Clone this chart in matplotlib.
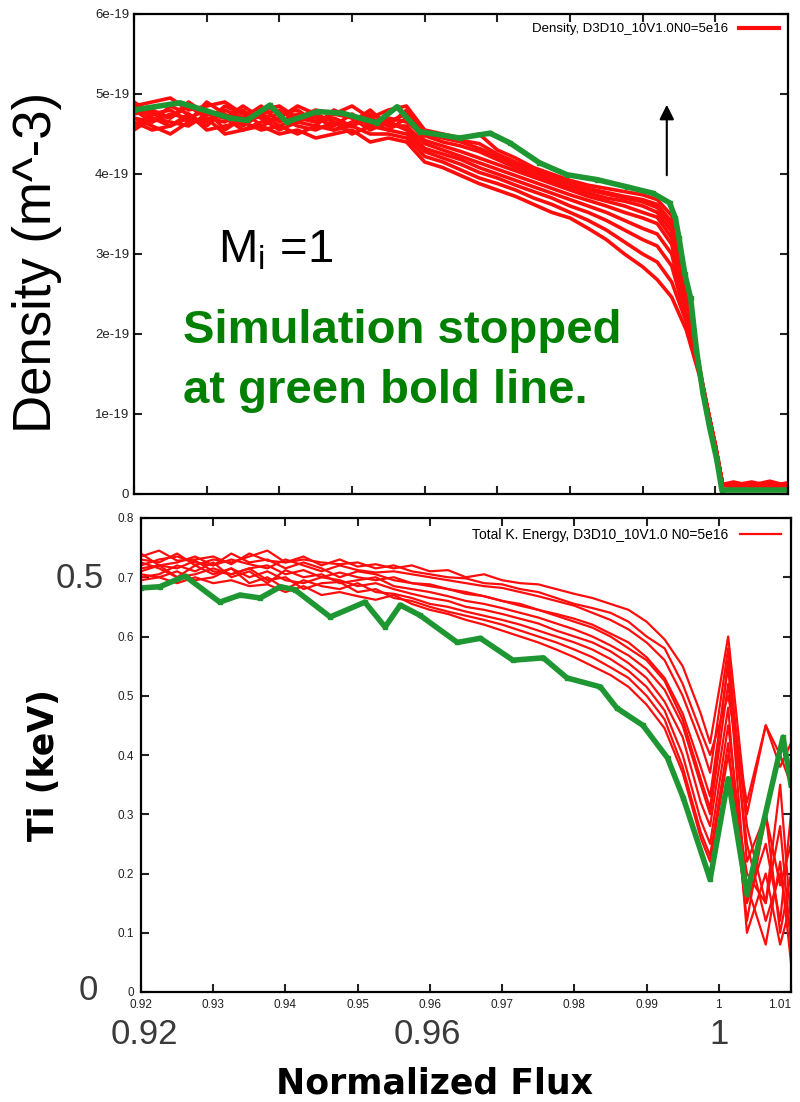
import matplotlib.pyplot as plt

# ---- top panel: density vs normalized flux (units of 1e19 m^-3) ----
flux_top = [0.920, 0.9225, 0.925, 0.9275, 0.930, 0.9325, 0.935, 0.9375, 0.940, 0.9425,
            0.945, 0.9475, 0.950, 0.9525, 0.955, 0.9575, 0.960, 0.9625, 0.965, 0.9675,
            0.970, 0.9725, 0.975, 0.9775, 0.980, 0.9825, 0.985, 0.9875, 0.990, 0.992,
            0.994, 0.996, 0.998, 1.000, 1.001, 1.0025, 1.005, 1.0075, 1.010]

dens_a = [4.85, 4.9, 4.95, 4.8, 4.85, 4.9, 4.75, 4.8, 4.85, 4.7, 4.8, 4.75, 4.85, 4.7, 4.8,
          4.85, 4.55, 4.5, 4.45, 4.5, 4.3, 4.2, 4.08, 4.0, 3.92, 3.86, 3.82, 3.78, 3.74,
          3.68, 3.48, 2.5, 1.45, 0.6, 0.13, 0.1, 0.11, 0.09, 0.1]
dens_b = [4.75, 4.8, 4.7, 4.9, 4.75, 4.7, 4.85, 4.7, 4.75, 4.8, 4.65, 4.7, 4.6, 4.75, 4.65,
          4.75, 4.5, 4.48, 4.42, 4.38, 4.25, 4.15, 4.05, 3.96, 3.88, 3.82, 3.77, 3.72, 3.68,
          3.62, 3.4, 2.45, 1.5, 0.58, 0.12, 0.15, 0.1, 0.14, 0.09]
dens_c = [4.7, 4.65, 4.85, 4.75, 4.6, 4.8, 4.7, 4.85, 4.65, 4.75, 4.7, 4.6, 4.75, 4.6, 4.7,
          4.65, 4.48, 4.4, 4.35, 4.28, 4.18, 4.08, 3.98, 3.9, 3.84, 3.76, 3.7, 3.66, 3.6,
          3.52, 3.28, 2.4, 1.42, 0.62, 0.12, 0.08, 0.12, 0.1, 0.13]
dens_d = [4.9, 4.75, 4.8, 4.65, 4.9, 4.75, 4.6, 4.75, 4.8, 4.65, 4.6, 4.8, 4.7, 4.65, 4.55,
          4.7, 4.42, 4.35, 4.28, 4.2, 4.12, 4.04, 3.96, 3.88, 3.8, 3.72, 3.66, 3.6, 3.52,
          3.46, 3.2, 2.35, 1.48, 0.59, 0.11, 0.14, 0.09, 0.11, 0.1]
dens_e = [4.6, 4.75, 4.7, 4.85, 4.7, 4.65, 4.8, 4.6, 4.7, 4.85, 4.75, 4.65, 4.6, 4.7, 4.6,
          4.6, 4.38, 4.3, 4.22, 4.14, 4.06, 3.98, 3.9, 3.82, 3.74, 3.67, 3.6, 3.52, 3.45,
          3.38, 3.12, 2.3, 1.44, 0.61, 0.12, 0.11, 0.15, 0.1, 0.11]
dens_f = [4.8, 4.65, 4.75, 4.7, 4.8, 4.55, 4.7, 4.75, 4.6, 4.7, 4.65, 4.75, 4.7, 4.55, 4.65,
          4.55, 4.32, 4.25, 4.18, 4.08, 4.0, 3.92, 3.84, 3.76, 3.68, 3.6, 3.52, 3.42, 3.32,
          3.25, 3.0, 2.25, 1.46, 0.6, 0.11, 0.1, 0.11, 0.16, 0.1]
dens_g = [4.55, 4.7, 4.65, 4.6, 4.75, 4.7, 4.55, 4.65, 4.7, 4.6, 4.55, 4.65, 4.5, 4.6, 4.55,
          4.5, 4.28, 4.2, 4.12, 4.02, 3.95, 3.86, 3.78, 3.7, 3.6, 3.52, 3.42, 3.3, 3.18,
          3.1, 2.85, 2.2, 1.43, 0.58, 0.12, 0.13, 0.1, 0.1, 0.14]
dens_h = [4.65, 4.55, 4.6, 4.75, 4.55, 4.6, 4.65, 4.55, 4.6, 4.5, 4.6, 4.55, 4.6, 4.5, 4.5,
          4.45, 4.22, 4.15, 4.05, 3.95, 3.88, 3.8, 3.7, 3.62, 3.52, 3.42, 3.3, 3.15, 3.0,
          2.9, 2.65, 2.15, 1.45, 0.6, 0.11, 0.1, 0.13, 0.11, 0.1]
dens_i = [4.7, 4.6, 4.5, 4.65, 4.7, 4.5, 4.55, 4.6, 4.5, 4.55, 4.45, 4.5, 4.55, 4.4, 4.45,
          4.4, 4.15, 4.08, 3.98, 3.88, 3.8, 3.72, 3.62, 3.52, 3.45, 3.32, 3.18, 3.0, 2.84,
          2.68, 2.46, 2.05, 1.42, 0.59, 0.12, 0.1, 0.11, 0.1, 0.1]
dens_j = [4.85, 4.7, 4.6, 4.7, 4.65, 4.85, 4.75, 4.7, 4.55, 4.65, 4.75, 4.55, 4.65, 4.8, 4.6,
          4.8, 4.5, 4.45, 4.4, 4.32, 4.22, 4.12, 4.02, 3.94, 3.86, 3.8, 3.75, 3.7, 3.65,
          3.58, 3.35, 2.42, 1.47, 0.61, 0.12, 0.11, 0.1, 0.1, 0.12]
dens_runs = [dens_a, dens_b, dens_c, dens_d, dens_e, dens_f, dens_g, dens_h, dens_i, dens_j]

flux_stop_top = [0.920, 0.9263, 0.9332, 0.9355, 0.9387, 0.941, 0.9452, 0.9487, 0.9534, 0.9562,
                 0.9593, 0.9648, 0.969, 0.9717, 0.9758, 0.9796, 0.9837, 0.9878, 0.9914, 0.9937,
                 0.9945, 0.995, 0.9958, 0.9966, 0.9974, 0.9983, 0.9992, 1.0002, 1.0009, 1.010]
dens_stop = [4.8, 4.89, 4.7, 4.67, 4.86, 4.65, 4.78, 4.76, 4.64, 4.84,
             4.53, 4.45, 4.51, 4.39, 4.14, 3.99, 3.93, 3.84, 3.76, 3.64,
             3.45, 3.2, 2.75, 2.45, 1.8, 1.26, 0.84, 0.43, 0.05, 0.05]

dens_ticks = [0, 1, 2, 3, 4, 5, 6]
dens_ticklabels = ["0", "1e-19", "2e-19", "3e-19", "4e-19", "5e-19", "6e-19"]

# ---- bottom panel: Ti vs normalized flux ----
flux_bot = [0.920, 0.9225, 0.925, 0.9275, 0.930, 0.9325, 0.935, 0.9375, 0.940, 0.9425,
            0.945, 0.9475, 0.950, 0.9525, 0.955, 0.9575, 0.960, 0.9625, 0.965, 0.9675,
            0.970, 0.9725, 0.975, 0.9775, 0.980, 0.9825, 0.985, 0.9875, 0.990, 0.9925,
            0.995, 0.9975, 0.9988, 1.0013, 1.0039, 1.0065, 1.0085, 1.010]

ti_01 = [0.735, 0.745, 0.728, 0.730, 0.735, 0.722, 0.740, 0.728, 0.725, 0.735,
         0.720, 0.730, 0.718, 0.722, 0.715, 0.720, 0.710, 0.712, 0.700, 0.705,
         0.695, 0.690, 0.688, 0.680, 0.672, 0.665, 0.655, 0.645, 0.625, 0.595,
         0.550, 0.470, 0.420, 0.600, 0.300, 0.450, 0.380, 0.420]
ti_02 = [0.720, 0.730, 0.735, 0.725, 0.720, 0.730, 0.722, 0.715, 0.730, 0.720,
         0.710, 0.720, 0.712, 0.708, 0.710, 0.705, 0.700, 0.695, 0.690, 0.685,
         0.682, 0.675, 0.668, 0.660, 0.652, 0.640, 0.628, 0.612, 0.590, 0.560,
         0.500, 0.420, 0.370, 0.580, 0.220, 0.300, 0.180, 0.250]
ti_03 = [0.710, 0.720, 0.715, 0.728, 0.710, 0.705, 0.715, 0.720, 0.705, 0.712,
         0.700, 0.708, 0.700, 0.695, 0.700, 0.690, 0.685, 0.680, 0.672, 0.668,
         0.660, 0.652, 0.645, 0.638, 0.630, 0.620, 0.605, 0.590, 0.565, 0.530,
         0.470, 0.380, 0.330, 0.550, 0.150, 0.250, 0.120, 0.300]
ti_04 = [0.700, 0.705, 0.720, 0.710, 0.725, 0.700, 0.710, 0.690, 0.712, 0.700,
         0.705, 0.690, 0.695, 0.700, 0.685, 0.680, 0.675, 0.668, 0.660, 0.655,
         0.648, 0.640, 0.632, 0.622, 0.612, 0.600, 0.585, 0.568, 0.545, 0.510,
         0.450, 0.350, 0.300, 0.520, 0.250, 0.120, 0.200, 0.100]
ti_05 = [0.725, 0.715, 0.700, 0.720, 0.705, 0.715, 0.700, 0.710, 0.695, 0.690,
         0.700, 0.695, 0.685, 0.690, 0.680, 0.672, 0.665, 0.660, 0.650, 0.645,
         0.638, 0.630, 0.622, 0.610, 0.600, 0.590, 0.575, 0.555, 0.530, 0.490,
         0.430, 0.320, 0.280, 0.480, 0.100, 0.200, 0.080, 0.150]
ti_06 = [0.740, 0.720, 0.725, 0.735, 0.720, 0.740, 0.725, 0.730, 0.715, 0.725,
         0.715, 0.700, 0.710, 0.705, 0.695, 0.690, 0.688, 0.680, 0.675, 0.668,
         0.660, 0.655, 0.645, 0.635, 0.625, 0.615, 0.600, 0.580, 0.560, 0.525,
         0.460, 0.360, 0.310, 0.560, 0.280, 0.150, 0.350, 0.120]
ti_07 = [0.705, 0.700, 0.710, 0.695, 0.700, 0.715, 0.690, 0.700, 0.680, 0.695,
         0.685, 0.680, 0.690, 0.675, 0.672, 0.665, 0.655, 0.650, 0.642, 0.635,
         0.628, 0.620, 0.610, 0.600, 0.590, 0.578, 0.562, 0.542, 0.515, 0.475,
         0.400, 0.290, 0.250, 0.450, 0.180, 0.080, 0.220, 0.050]
ti_08 = [0.715, 0.720, 0.700, 0.705, 0.715, 0.705, 0.715, 0.695, 0.700, 0.680,
         0.690, 0.692, 0.675, 0.680, 0.665, 0.660, 0.650, 0.642, 0.635, 0.628,
         0.620, 0.610, 0.600, 0.590, 0.578, 0.565, 0.548, 0.530, 0.500, 0.460,
         0.380, 0.270, 0.230, 0.420, 0.120, 0.300, 0.100, 0.200]
ti_09 = [0.695, 0.700, 0.690, 0.700, 0.690, 0.695, 0.685, 0.688, 0.675, 0.685,
         0.670, 0.675, 0.668, 0.662, 0.670, 0.655, 0.645, 0.638, 0.628, 0.620,
         0.610, 0.600, 0.590, 0.578, 0.565, 0.550, 0.535, 0.515, 0.485, 0.445,
         0.370, 0.260, 0.220, 0.400, 0.200, 0.150, 0.280, 0.080]
ti_10 = [0.730, 0.725, 0.740, 0.720, 0.730, 0.725, 0.735, 0.745, 0.725, 0.730,
         0.725, 0.722, 0.725, 0.715, 0.720, 0.710, 0.705, 0.700, 0.698, 0.690,
         0.688, 0.680, 0.675, 0.665, 0.655, 0.648, 0.640, 0.625, 0.600, 0.580,
         0.520, 0.440, 0.400, 0.500, 0.320, 0.450, 0.400, 0.350]
ti_runs = [ti_01, ti_02, ti_03, ti_04, ti_05, ti_06, ti_07, ti_08, ti_09, ti_10]

flux_stop_bot = [0.920, 0.9226, 0.9261, 0.9309, 0.9337, 0.9365, 0.9393, 0.9413, 0.9462, 0.9510,
                 0.9538, 0.9559, 0.9586, 0.9638, 0.9670, 0.9715, 0.9757, 0.9790, 0.9836, 0.9859,
                 0.9895, 0.9929, 0.9951, 0.9988, 1.0013, 1.0039, 1.0089, 1.010]
ti_stop = [0.682, 0.684, 0.702, 0.658, 0.670, 0.665, 0.684, 0.679, 0.633, 0.658,
           0.616, 0.653, 0.636, 0.590, 0.597, 0.560, 0.564, 0.530, 0.515, 0.479,
           0.450, 0.395, 0.327, 0.190, 0.360, 0.165, 0.430, 0.350]

flux_ticks = [0.92, 0.93, 0.94, 0.95, 0.96, 0.97, 0.98, 0.99, 1.00, 1.01]
flux_ticklabels = ["0.92", "0.93", "0.94", "0.95", "0.96", "0.97", "0.98", "0.99", "1", "1.01"]
ti_ticks = [0, 0.1, 0.2, 0.3, 0.4, 0.5, 0.6, 0.7, 0.8]
ti_ticklabels = ["0", "0.1", "0.2", "0.3", "0.4", "0.5", "0.6", "0.7", "0.8"]

RED = '#ff0d0d'
GREEN = '#1e9632'

plt.rcParams['font.family'] = ['Liberation Sans', 'DejaVu Sans']

fig = plt.figure(figsize=(8, 11.02), dpi=100)
W, H = 800.0, 1102.0


def px(x, y):
    return x / W, 1 - y / H


ax1 = fig.add_axes([134 / W, 1 - 494 / H, 654 / W, 480 / H])
ax2 = fig.add_axes([141 / W, 1 - 992 / H, 650 / W, 474 / H])

# top panel
for k, run in enumerate(dens_runs):
    lab = "Density, D3D10_10V1.0N0=5e16" if k == 0 else None
    ax1.plot(flux_top, run, color=RED, lw=2.6, label=lab)
ax1.plot(flux_stop_top, dens_stop, color=GREEN, lw=4, marker='s', ms=2.5)
ax1.set_xlim(0.92, 1.01)
ax1.set_ylim(0, 6)
ax1.set_xticks(flux_ticks)
ax1.set_yticks(dens_ticks)
ax1.set_yticklabels(dens_ticklabels)
ax1.tick_params(direction='in', length=6, width=1.5, top=True, right=True,
                labelbottom=False, labelsize=9.5, colors='#222222')
leg1 = ax1.legend(loc='upper right', frameon=False, markerfirst=False, fontsize=9.5,
                  handlelength=3.0, borderaxespad=0.3)
for line in leg1.get_lines():
    line.set_linewidth(3)
ax1.annotate('', xy=(0.99332, 4.9), xytext=(0.99332, 3.95),
             arrowprops=dict(arrowstyle='-|>', color='black', lw=1.5, mutation_scale=22))

# bottom panel
for k, run in enumerate(ti_runs):
    lab = "Total K. Energy, D3D10_10V1.0 N0=5e16" if k == 0 else None
    ax2.plot(flux_bot, run, color=RED, lw=1.6, label=lab)
ax2.plot(flux_stop_bot, ti_stop, color=GREEN, lw=4, marker='s', ms=2.5)
ax2.set_xlim(0.92, 1.01)
ax2.set_ylim(0, 0.8)
ax2.set_xticks(flux_ticks)
ax2.set_xticklabels(flux_ticklabels)
ax2.set_yticks(ti_ticks)
ax2.set_yticklabels(ti_ticklabels)
ax2.tick_params(direction='in', length=6, width=1.5, top=True, right=True,
                labelsize=8.5, colors='#222222', pad=5)
# last x label sits at the figure edge, keep it inside
ax2.get_xticklabels()[-1].set_horizontalalignment('right')
ax2.legend(loc='upper right', frameon=False, markerfirst=False, fontsize=10,
           handlelength=3.0, borderaxespad=0.3)

for ax in (ax1, ax2):
    for sp in ax.spines.values():
        sp.set_linewidth(1.6)

# overlay annotations
fig.text(*px(37, 262), "Density (m^-3)", rotation=90, ha='center', va='center',
         fontsize=38, color='black')
fig.text(*px(218, 262), r"M$_\mathregular{i}$ =1", ha='left', va='baseline',
         fontsize=34, color='black')
fig.text(*px(183, 343), "Simulation stopped", ha='left', va='baseline',
         fontsize=34, fontweight='bold', color='#008000')
fig.text(*px(183, 403), "at green bold line.", ha='left', va='baseline',
         fontsize=34, fontweight='bold', color='#008000')

fig.text(*px(44, 765), "Ti (keV)", rotation=90, ha='center', va='center',
         fontsize=25, fontweight='bold', family='DejaVu Sans')
fig.text(*px(434, 1093), "Normalized Flux", ha='center', va='baseline',
         fontsize=25, fontweight='bold', family='DejaVu Sans')

GRAY = '#3a3a3a'
fig.text(*px(80, 578), "0.5", ha='center', va='center', fontsize=25, color=GRAY)
fig.text(*px(88, 990), "0", ha='center', va='center', fontsize=25, color=GRAY)
fig.text(*px(144, 1035), "0.92", ha='center', va='center', fontsize=25, color=GRAY)
fig.text(*px(427, 1035), "0.96", ha='center', va='center', fontsize=25, color=GRAY)
fig.text(*px(719, 1035), "1", ha='center', va='center', fontsize=25, color=GRAY)

fig.savefig('out.png', dpi=100)
